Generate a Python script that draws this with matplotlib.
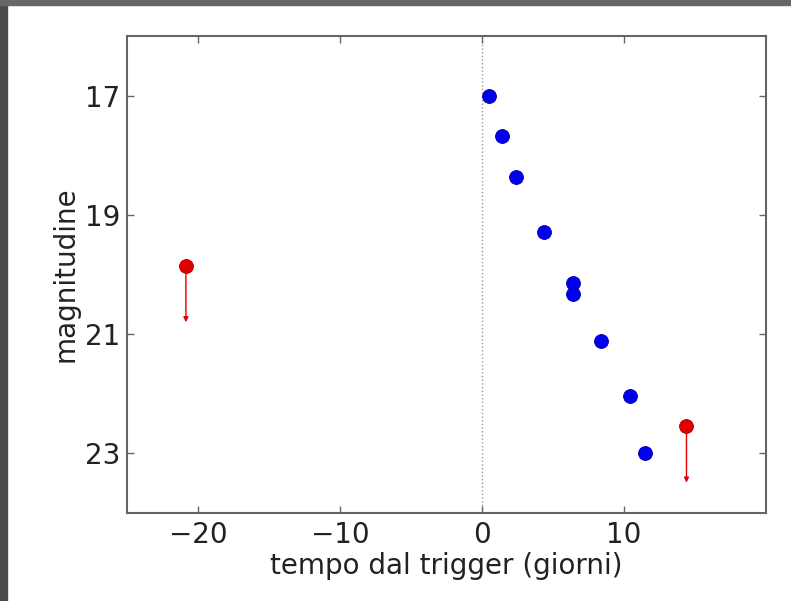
import matplotlib
matplotlib.use("Agg")
import matplotlib.pyplot as plt
from matplotlib.patches import Rectangle

# osservazioni (tempo in giorni, magnitudine)
t_det = [0.5, 1.4, 2.4, 4.4, 6.4, 6.4, 8.35, 10.4, 11.45]
mag_det = [17.0, 17.67, 18.36, 19.28, 20.14, 20.32, 21.12, 22.04, 23.0]

# limiti superiori
t_lim = [-20.85, 14.4]
mag_lim = [19.85, 22.54]
lim_len = 0.95

fig = plt.figure(figsize=(7.91, 6.01), dpi=100)
fig.patch.set_facecolor("white")
# cornice scura dello screenshot
fig.patches.append(Rectangle((0, 0), 7 / 791, 1, transform=fig.transFigure,
                             color="#4a4a4a", zorder=0))
fig.patches.append(Rectangle((0, 1 - 5 / 601), 1, 5 / 601, transform=fig.transFigure,
                             color="#676767", zorder=0))

ax = fig.add_axes([127 / 791, 88 / 601, 639 / 791, 477 / 601])

ax.axvline(0, color="#999999", ls=":", lw=1, zorder=1)
ax.plot(t_det, mag_det, "o", color="#0000ee", mec="#0000aa", mew=0.6, ms=10, zorder=3)
ax.plot(t_lim, mag_lim, "o", color="#e00000", mec="#aa0000", mew=0.6, ms=10, zorder=3)
for x, y in zip(t_lim, mag_lim):
    ax.annotate("", xy=(x, y + lim_len), xytext=(x, y),
                arrowprops=dict(arrowstyle="-|>", color="#e00000", lw=1,
                                mutation_scale=7, shrinkA=0, shrinkB=0))

ax.set_xlim(-25, 20)
ax.set_ylim(24, 16)
ax.set_xticks([-20, -10, 0, 10])
ax.set_yticks([17, 19, 21, 23])
ax.tick_params(direction="in", top=True, right=True, length=5, width=1,
               color="#666666", labelsize=20, labelcolor="#222222")
ax.tick_params(axis="x", pad=6)
ax.tick_params(axis="y", pad=5)
for s in ax.spines.values():
    s.set_color("#666666")
    s.set_linewidth(1.5)

ax.set_xlabel("tempo dal trigger (giorni)", fontsize=20, color="#222222", labelpad=2)
ax.set_ylabel("magnitudine", fontsize=20, color="#222222", labelpad=4)

fig.savefig("out.png", dpi=100)
